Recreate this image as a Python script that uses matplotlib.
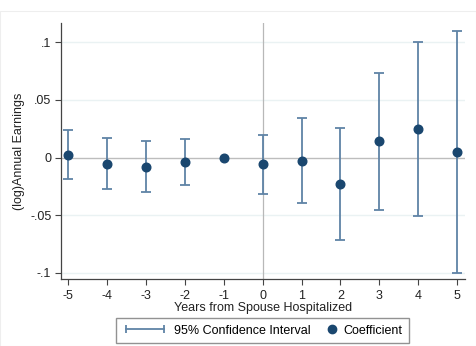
import matplotlib.pyplot as plt
from matplotlib.lines import Line2D
from matplotlib.legend_handler import HandlerLine2D, HandlerBase
from matplotlib.patches import Rectangle

plt.rcParams['font.family'] = ['Liberation Sans', 'DejaVu Sans']

years = [-5, -4, -3, -2, -1, 0, 1, 2, 3, 4, 5]
coef = [0.0024, -0.0054, -0.0080, -0.0042, 0.0, -0.0059, -0.0028, -0.0230, 0.0140, 0.0247, 0.0048]
ci_low = [-0.0186, -0.0273, -0.0302, -0.0238, 0.0, -0.0313, -0.0394, -0.0715, -0.0455, -0.0507, -0.0998]
ci_high = [0.0238, 0.0172, 0.0140, 0.0160, 0.0, 0.0198, 0.0340, 0.0253, 0.0735, 0.1001, 0.1096]
yticks = [-0.1, -0.05, 0, 0.05, 0.1]
ytick_labels = ["-.1", "-.05", "0", ".05", ".1"]

navy = "#1a476f"
ci_col = "#5f83a6"

fig = plt.figure(figsize=(4.77, 3.46), dpi=100)
fig.patches.append(Rectangle((0.0, 0.0), 476 / 477, 1 - 11 / 346, transform=fig.transFigure,
                             fill=False, edgecolor="#eeeeee", lw=0.8))
ax = fig.add_axes([61 / 477, 1 - 279 / 346, (465 - 61) / 477, (279 - 23) / 346])

# gridlines and reference lines
for yv in yticks:
    if yv == 0:
        ax.axhline(0, color="#bdbdbd", lw=1.0, zorder=1)
    else:
        ax.axhline(yv, color="#eaf2f3", lw=1.0, zorder=0)
ax.axvline(0, color="#b8b8b8", lw=0.9, zorder=1)

# confidence intervals (skip the reference year)
err_x = [x for x, lo, hi in zip(years, ci_low, ci_high) if hi != lo]
err_lo = [c - lo for c, lo, hi in zip(coef, ci_low, ci_high) if hi != lo]
err_hi = [hi - c for c, lo, hi in zip(coef, ci_low, ci_high) if hi != lo]
err_c = [c for c, lo, hi in zip(coef, ci_low, ci_high) if hi != lo]
ax.errorbar(err_x, err_c, yerr=[err_lo, err_hi], fmt="none", ecolor=ci_col,
            elinewidth=1.3, capsize=3.5, capthick=1.3, zorder=2)
ax.plot(years, coef, "o", color=navy, ms=6.2, zorder=3)

ax.set_xlim(-5.18, 5.2)
ax.set_ylim(-0.1053, 0.1166)
ax.set_xticks(years)
ax.set_xticklabels([str(y) for y in years])
ax.set_yticks(yticks)
ax.set_yticklabels(ytick_labels)
ax.tick_params(axis="both", direction="out", length=4, width=0.8, colors="#444444",
               labelcolor="#222222", labelsize=9, pad=3)
ax.tick_params(axis="x", pad=4)
for s in ["top", "right"]:
    ax.spines[s].set_visible(False)
for s in ["left", "bottom"]:
    ax.spines[s].set_color("#444444")
    ax.spines[s].set_linewidth(0.9)

ax.set_xlabel("Years from Spouse Hospitalized", fontsize=9, color="#222222", labelpad=0)
ax.set_ylabel("(log)Annual Earnings", fontsize=9, color="#222222")
ax.yaxis.set_label_coords(-0.088, 0.5)


class DotHandler(HandlerBase):
    def create_artists(self, legend, orig_handle, xdescent, ydescent, width, height, fontsize, trans):
        ln = Line2D([-xdescent + width - 4], [(height - ydescent) / 2], marker="o",
                    color=navy, ms=6, linestyle="none", transform=trans)
        return [ln]


ci_handle = Line2D([], [], color=ci_col, lw=1.3, marker="|", ms=6, mew=1.3)
dot_handle = Line2D([], [], color=navy, marker="o", linestyle="none")
fig.legend([ci_handle, dot_handle], ["95% Confidence Interval", "Coefficient"],
           handler_map={ci_handle: HandlerLine2D(numpoints=2), dot_handle: DotHandler()},
           loc="center", bbox_to_anchor=(262.5 / 477, 1 - 330.5 / 346), ncol=2,
           fontsize=9, frameon=True, fancybox=False, edgecolor="#777777",
           handlelength=3.6, handletextpad=0.5, columnspacing=-1.45,
           borderpad=0.5, borderaxespad=0)

fig.savefig("out.png", dpi=100)
